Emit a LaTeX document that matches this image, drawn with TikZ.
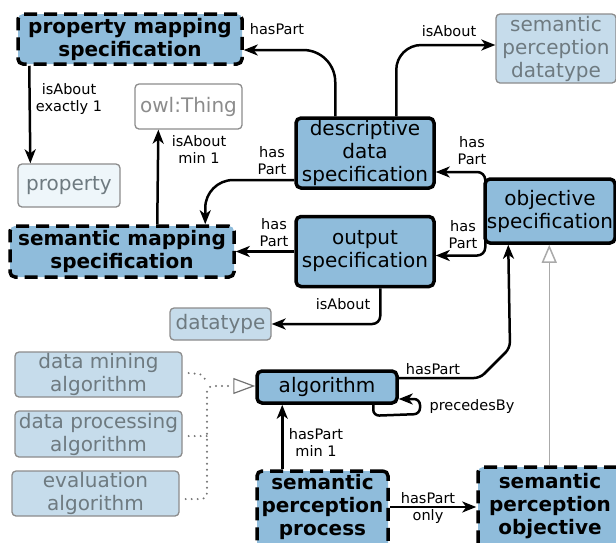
\documentclass[tikz,border=0pt]{standalone}
\usepackage{fontspec}
\setmainfont{DejaVu Sans}
\usetikzlibrary{arrows.meta}
\definecolor{mblue}{RGB}{143,188,219}
\definecolor{lblue}{RGB}{198,220,235}
\definecolor{pblue}{RGB}{238,246,250}
\definecolor{lgray}{RGB}{140,140,140}
\definecolor{tgray}{RGB}{110,122,128}
\definecolor{igray}{RGB}{170,170,170}
\definecolor{dgray}{RGB}{115,115,115}
\tikzset{
  main/.style={draw, line width=3.5pt, fill=mblue, rounded corners=5pt, align=center, inner sep=0pt, font=\fontsize{20}{23}\selectfont},
  dmain/.style={main, dash pattern=on 13pt off 7pt, font=\bfseries\fontsize{20}{23}\selectfont},
  boldtext/.style={font=\bfseries\fontsize{20}{23}\selectfont, align=center, inner sep=0pt},
  light/.style={draw=lgray, line width=1.3pt, fill=lblue, rounded corners=4pt, align=center, inner sep=0pt, text=tgray, font=\fontsize{20}{23}\selectfont},
  rel/.style={line width=2.5pt, -{Stealth[length=14pt,width=11pt,inset=4pt]}},
  lbl/.style={font=\fontsize{14.5}{17}\selectfont, align=center, inner sep=1pt},
  dotline/.style={dgray, line width=2.2pt, dash pattern=on 0pt off 6pt, line cap=round},
}
\begin{document}
\begin{tikzpicture}[x=1pt,y=-1pt]
\useasboundingbox (0,0) rectangle (616,542);
% nodes
\node[dmain, minimum width=224pt, minimum height=50pt] (pms) at (130,39) {property mapping\\specification};
\node[light, fill=white, text=lgray, minimum width=107pt, minimum height=45pt] (owl) at (188.5,106.5) {owl:Thing};
\node[light, fill=pblue, minimum width=102pt, minimum height=43pt] (prop) at (69,185.5) {property};
\node[dmain, minimum width=224pt, minimum height=51pt] (sms) at (122,251.5) {semantic mapping\\specification};
\node[main, minimum width=138pt, minimum height=70pt] (dds) at (365,153) {descriptive\\data\\specification};
\node[light, minimum width=120pt, minimum height=69pt] (spd) at (556,48.5) {semantic\\perception\\datatype};
\node[main, minimum width=130pt, minimum height=64pt] (obj) at (550,211) {objective\\specification};
\node[main, minimum width=138pt, minimum height=70pt] (out) at (365,251.5) {output\\specification};
\node[light, minimum width=101pt, minimum height=32pt] (dtype) at (220.5,324) {datatype};
\node[light, minimum width=167pt, minimum height=45pt] (dma) at (98.5,374.5) {data mining\\algorithm};
\node[light, minimum width=167pt, minimum height=46pt] (dpa) at (98.5,434) {data processing\\algorithm};
\node[light, minimum width=167pt, minimum height=45pt] (eva) at (95.5,493.5) {evaluation\\algorithm};
\node[main, minimum width=140pt, minimum height=32pt] (alg) at (327,387) {algorithm};
\node[dmain, minimum width=131pt, minimum height=80pt,
  label={[boldtext, yshift=4.5pt]center:semantic\\perception\\process}] (spp) at (322.5,511) {};
\node[dmain, minimum width=144pt, minimum height=82pt,
  label={[boldtext, yshift=2pt]center:semantic\\perception\\objective}] (spo) at (550,508) {};
% connectors
\draw[rel, rounded corners=32pt] ([xshift=41pt]dds.north west) |- ([yshift=-11pt]pms.east);
\node[lbl] at (277,29) {hasPart};
\draw[rel, rounded corners=25pt] ([xshift=102pt]dds.north west) |- ([yshift=3.5pt]spd.west);
\node[lbl] at (449,31) {isAbout};
\draw[rel] ([xshift=13pt]pms.south west) -- ([xshift=13pt]prop.north west);
\node[lbl] at (69,99) {isAbout\\exactly 1};
\draw[rel] ([xshift=149pt]sms.north west) -- ([xshift=24pt]owl.south west);
\node[lbl] at (199,149) {isAbout\\min 1};
\draw[rel, rounded corners=28pt] ([yshift=-27pt]dds.west) -| ([xshift=197pt]sms.north west);
\node[lbl] at (272,161) {has\\Part};
\draw[rel] (out.west) -- (sms.east);
\node[lbl] at (274,233) {has\\Part};
\draw[rel, rounded corners=8pt] ([xshift=2pt,yshift=-10pt]obj.north west) |- ([yshift=-19pt]dds.east);
\node[lbl] at (472,151) {has\\Part};
\draw[rel, rounded corners=8pt] ([xshift=2pt,yshift=8pt]obj.south west) |- ([yshift=-4pt]out.east);
\node[lbl] at (463,235) {has\\Part};
\draw[rel, rounded corners=8pt] ([xshift=86pt]out.south west) |- (dtype.east);
\node[lbl] at (343,304) {isAbout};
\draw[rel, rounded corners=6pt] ([yshift=9pt]alg.east) -- (480,378) -- (510,348) -- ([xshift=25pt]obj.south west);
\node[lbl] at (433,369) {hasPart};
\draw[rel, rounded corners=6pt] ([xshift=118pt]alg.south west) -- ++(0,11) -- (420,414) -- (420,399) -- ([yshift=-12pt]alg.east);
\node[lbl] at (472,406) {precedesBy};
\draw[rel] ([xshift=27pt]spp.north west) -- ([xshift=27pt]alg.south west);
\node[lbl] at (316,442) {hasPart\\min 1};
\draw[rel] ([yshift=4pt]spp.east) -- ([yshift=4pt]spp.east -| spo.west);
\node[lbl] at (428,508) {hasPart\\only};
\draw[igray, line width=1.5pt, -{Triangle[open, length=18pt, width=15pt, fill=white]}] ([xshift=73pt]spo.north west) -- ([xshift=66pt]obj.south west);
% dotted specialisation
\draw[dotline, rounded corners=6pt, -{Triangle[open, length=22pt, width=16pt, fill=white, line width=1.2pt]}] ([xshift=6pt,yshift=-5.5pt]eva.east) -- (207,499) -- (207,386) -- ([yshift=1pt]alg.west);
\draw[dotline] ([xshift=6pt,yshift=-2pt]dpa.east) -- (207,436);
\draw[dotline] ([xshift=6pt,yshift=1.5pt]dma.east) -- (200,374) -- (207,381);
\end{tikzpicture}
\end{document}
